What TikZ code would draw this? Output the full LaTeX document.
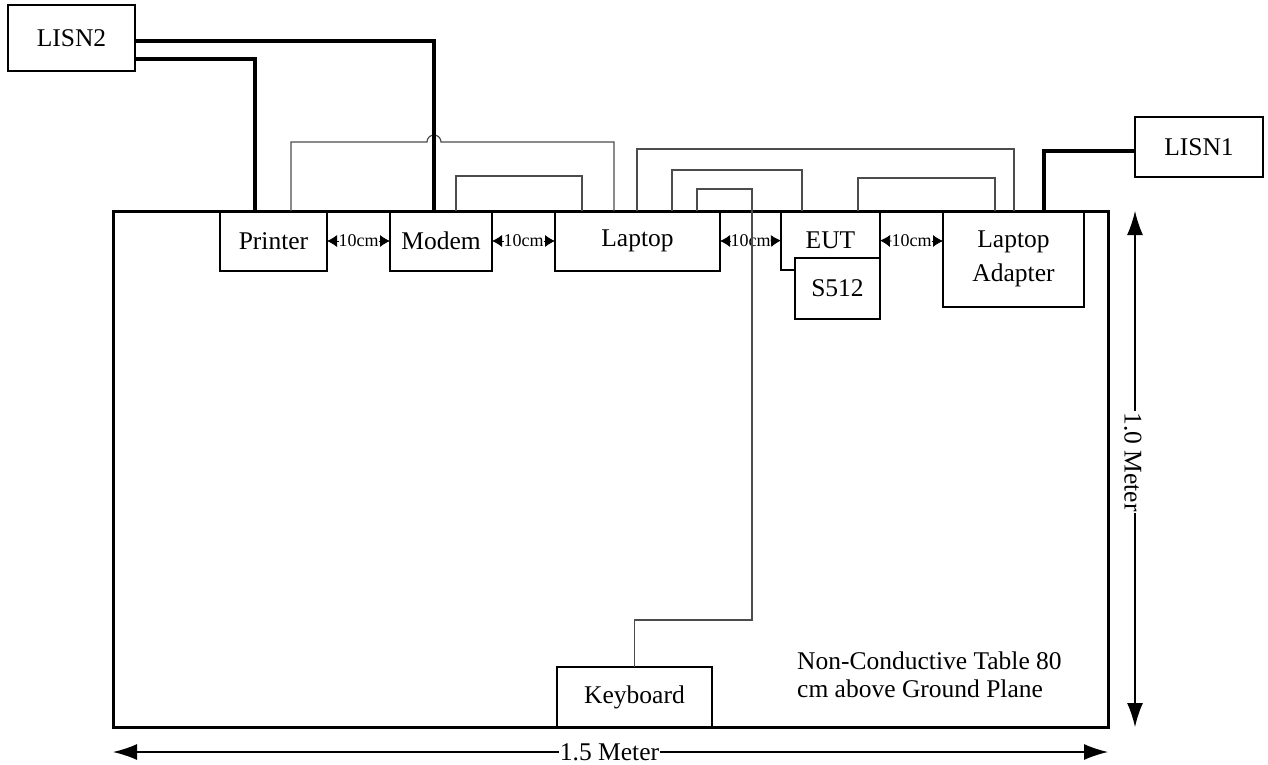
\documentclass[tikz,border=0pt]{standalone}
\usepackage{fontspec}
\setmainfont{Liberation Serif}
\usetikzlibrary{arrows.meta}
\begin{document}
\begin{tikzpicture}[x=1pt,y=-1pt,
  box/.style={draw, line width=1.6pt, inner sep=0pt, outer sep=0pt, font=\fontsize{25.5}{34}\selectfont, align=center},
  cable/.style={draw=black!70, line width=1.2pt},
  power/.style={line width=3.2pt},
  dim/.style={line width=1.4pt, <->, >={Latex[length=24pt,width=16pt]}},
  gaplbl/.style={font=\fontsize{18}{20}\selectfont, inner sep=0pt, outer sep=0pt},
  gaparrow/.style={line width=0.8pt, -{Latex[length=10pt,width=12pt]}},
  lbl/.style={font=\fontsize{25.5}{28}\selectfont, inner sep=0pt, align=left}
]
\useasboundingbox (0,0) rectangle (1268,765);

% table
\node[draw, line width=3pt, minimum width=995pt, minimum height=516pt, inner sep=0pt, outer sep=0pt] (table) at (610.5,469) {};

% boxes
\node[box, minimum width=127pt, minimum height=66pt] (LISN2) at (71.5,38) {LISN2};
\node[box, minimum width=128pt, minimum height=60pt] (LISN1) at (1199,147) {LISN1};
\node[box, minimum width=107pt, minimum height=60pt] (Printer) at (273.5,241) {Printer};
\node[box, minimum width=102pt, minimum height=60pt] (Modem) at (441,241) {Modem};
\node[box, minimum width=165pt, minimum height=60pt] (Laptop) at (637.5,241) {Laptop};
\node[box, minimum width=99pt, minimum height=59pt] (EUT) at (830.5,240.5) {EUT};
\node[box, fill=white, minimum width=85pt, minimum height=61pt] (S512) at (837.5,288.5) {S512};
\node[box, minimum width=141pt, minimum height=96pt] (Adapter) at (1013.5,259) {Laptop\\Adapter};
\node[box, minimum width=155pt, minimum height=60pt] (Keyboard) at (634.5,697) {Keyboard};

% spacing labels
\node[gaplbl] (g1) at (358.5,241) {10cm};
\node[gaplbl] (g2) at (523.5,241) {10cm};
\node[gaplbl] (g3) at (750.5,241) {10cm};
\node[gaplbl] (g4) at (911.5,241) {10cm};
\draw[gaparrow] (g1.west) -- (Printer.east);
\draw[gaparrow] (g1.east) -- (Modem.west);
\draw[gaparrow] (g2.west) -- (Modem.east);
\draw[gaparrow] (g2.east) -- (Laptop.west);
\draw[gaparrow] (g3.west) -- (Laptop.east);
\draw[gaparrow] (g3.east) -- (EUT.west);
\draw[gaparrow] (g4.west) -- (EUT.east);
\draw[gaparrow] (g4.east) -- (Adapter.west |- g4.east);

% thin signal cables
\coordinate (hop) at (427,142);
\draw[cable] ([xshift=71pt]Printer.north west) |- (hop) arc[start angle=180, end angle=0, radius=7pt] -| ([xshift=59pt]Laptop.north west);
\draw[cable] ([xshift=66pt]Modem.north west) |- (519,176) -| ([xshift=27pt]Laptop.north west);
\draw[cable] ([xshift=82pt]Laptop.north west) |- (800,149) -| ([xshift=71pt]Adapter.north west);
\draw[cable] ([xshift=117pt]Laptop.north west) |- (740,170) -| ([xshift=21pt]EUT.north west);
\coordinate (kb1) at (752,189);
\coordinate (kb2) at (752,620);
\draw[cable] ([xshift=142pt]Laptop.north west) |- (kb1) -- (kb2) -| (Keyboard.north);
\draw[cable] ([xshift=77pt]EUT.north west) |- (920,178) -| ([xshift=52pt]Adapter.north west);

% power cables
\draw[power] ([yshift=-3pt]LISN2.east) -| ([xshift=44pt]Modem.north west);
\draw[power] ([yshift=-21pt]LISN2.east) -| ([xshift=35pt]Printer.north west);
\draw[power] ([yshift=-4pt]LISN1.west) -| ([xshift=101pt]Adapter.north west);

% dimensions
\draw[dim] ([yshift=-25pt]table.south west) -- ([yshift=-25pt]table.south east);
\node[lbl, fill=white, inner sep=1pt] (w) at (609.5,752) {1.5 Meter};
\draw[dim] ([xshift=27pt]table.north east) -- ([xshift=27pt]table.south east);
\node[lbl, fill=white, inner sep=1pt, rotate=-90] (h) at (1133,462) {1.0 Meter};

% table note
\node[lbl, anchor=north west] (note) at (797,652) {Non-Conductive Table 80\\cm above Ground Plane};
\end{tikzpicture}
\end{document}
